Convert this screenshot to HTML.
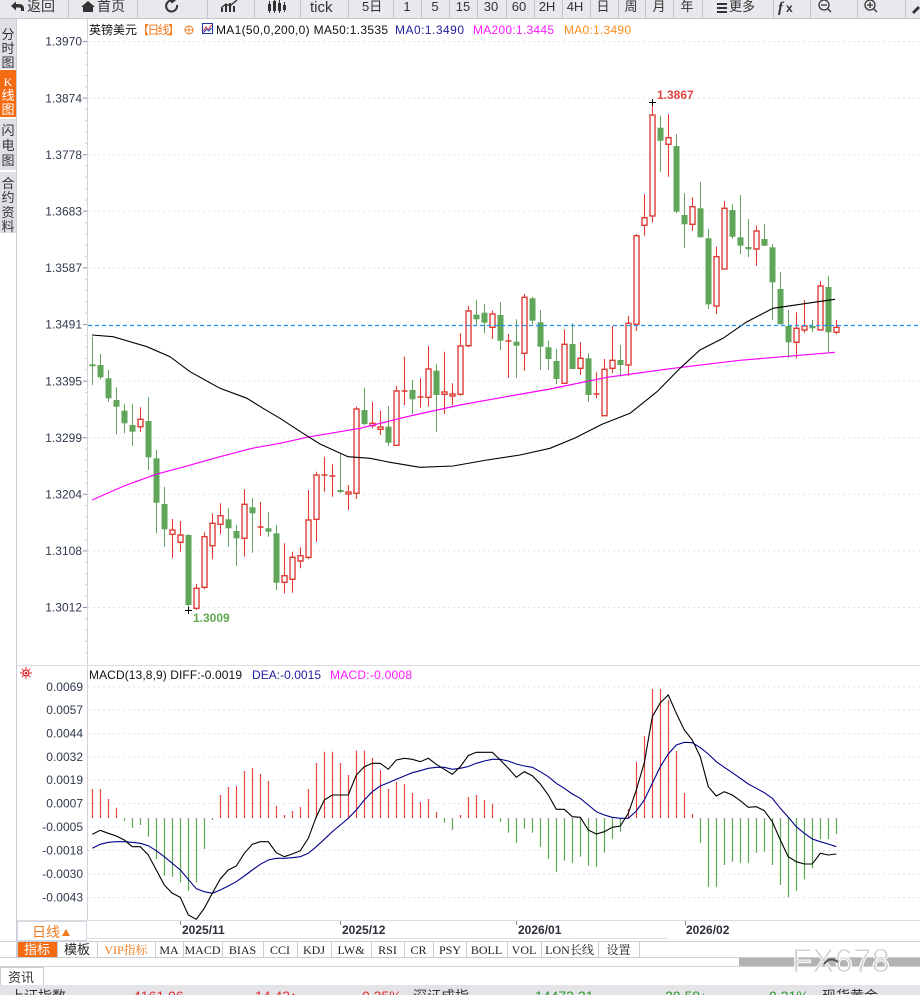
<!DOCTYPE html>
<html><head><meta charset="utf-8"><style>
html,body{margin:0;padding:0;background:#fff;width:920px;height:995px;overflow:hidden}
svg{position:absolute;left:0;top:0;font-family:"Liberation Sans","Noto Sans CJK SC",sans-serif}
</style></head><body>
<svg width="920" height="995" viewBox="0 0 920 995" xmlns="http://www.w3.org/2000/svg">
<!-- toolbar -->
<rect x="0" y="0" width="920" height="18" fill="#e8e8ed"/>
<line x1="0" y1="18.5" x2="920" y2="18.5" stroke="#c6c6ce"/>
<g stroke="#c4c4cc">
<path d="M68.5 0V18M137.5 0V18M207.5 0V18M254.5 0V18M300.5 0V18M348.5 0V18M393.5 0V18M421.5 0V18M449.5 0V18M477.5 0V18M506.5 0V18M534.5 0V18M562.5 0V18M590.5 0V18M618.5 0V18M645.5 0V18M673.5 0V18M702.5 0V18M773.5 0V18M810.5 0V18M857.5 0V18M905.5 0V18"/>
</g>
<g fill="#333" font-size="14">
<path d="M11 6 L16 1.5 V4 H19 Q24 4 24 9 V11 H21 V9 Q21 7.5 19 7.5 H16 V10.5 Z" fill="#333"/>
<text x="27" y="11">返回</text>
<path d="M81 7 L88 1 L95 7 H93 V12 H83 V7 Z" fill="#333"/>
<text x="97" y="11">首页</text>
<path d="M177 5 A5.5 5.5 0 1 1 172 0.5" fill="none" stroke="#333" stroke-width="2"/>
<path d="M171 -2 L176 0.8 L171 3.5Z"/>
<path d="M221 12V8h2v4zM225 12V5h2v7zM229 12V3h2v9zM233 12V6h2v6z"/>
<path d="M221 8 L226 4 L230 6 L237 0" fill="none" stroke="#333" stroke-width="1.3"/>
<path d="M268 4h3v7h-3zM273 1h3v10h-3zM278 3h3v8h-3zM283 5h3v5h-3z"/>
<path d="M269.5 1V13M274.5 -1V13M279.5 0V13M284.5 2V12" stroke="#333" stroke-width="1"/>
<text x="310" y="12" font-size="15">tick</text>
<text x="362" y="11" font-size="13">5日</text>
<text x="407" y="11" font-size="13" text-anchor="middle">1</text>
<text x="435" y="11" font-size="13" text-anchor="middle">5</text>
<text x="463" y="11" font-size="13" text-anchor="middle">15</text>
<text x="491" y="11" font-size="13" text-anchor="middle">30</text>
<text x="519" y="11" font-size="13" text-anchor="middle">60</text>
<text x="547" y="11" font-size="13" text-anchor="middle">2H</text>
<text x="575" y="11" font-size="13" text-anchor="middle">4H</text>
<text x="603" y="11" font-size="13" text-anchor="middle">日</text>
<text x="631" y="11" font-size="13" text-anchor="middle">周</text>
<text x="659" y="11" font-size="13" text-anchor="middle">月</text>
<text x="687" y="11" font-size="13" text-anchor="middle">年</text>
<path d="M717 3h10v2h-10zM717 7h10v2h-10zM717 11h10v2h-10z"/>
<text x="729" y="11" font-size="13">更多</text>
<text x="778" y="12" font-size="15" font-weight="bold" font-style="italic" font-family="Liberation Serif,serif">f</text>
<text x="786" y="12" font-size="12" font-weight="bold">x</text>
<circle cx="824" cy="5" r="5" fill="none" stroke="#333" stroke-width="1.3"/>
<path d="M821 5h6M828 9l3 3" stroke="#333" stroke-width="1.3"/>
<circle cx="870" cy="5" r="5" fill="none" stroke="#333" stroke-width="1.3"/>
<path d="M867 5h6M870 2v6M874 9l3 3" stroke="#333" stroke-width="1.3"/>
<path d="M912 12 L918 6 L920 8 L914 14 Z M911 15h9"/>
</g>

<!-- sidebar -->
<rect x="0" y="19" width="16" height="50" fill="#dfe0e6"/>
<rect x="0" y="70" width="16" height="47" fill="#f46b12"/>
<rect x="0" y="119" width="16" height="51" fill="#dfe0e6"/>
<rect x="0" y="172" width="16" height="61" fill="#dfe0e6"/>
<line x1="16.5" y1="19" x2="16.5" y2="958" stroke="#c9ccd4"/>
<g font-size="13" fill="#333" text-anchor="middle">
<text x="8" y="39">分</text><text x="8" y="53">时</text><text x="8" y="67">图</text>
<text x="8" y="86" fill="#fff" font-family="Liberation Serif,serif" font-size="12">K</text><text x="8" y="100" fill="#fff">线</text><text x="8" y="114" fill="#fff">图</text>
<text x="8" y="135">闪</text><text x="8" y="150">电</text><text x="8" y="165">图</text>
<text x="8" y="188">合</text><text x="8" y="202">约</text><text x="8" y="217">资</text><text x="8" y="231">料</text>
</g>

<!-- axis lines -->
<line x1="87.5" y1="19" x2="87.5" y2="921" stroke="#d3d3d8"/>
<line x1="17" y1="665.5" x2="920" y2="665.5" stroke="#dcdce0"/>

<!-- main grid -->
<g stroke="#e3e3e3" stroke-dasharray="2,3">
<path d="M88 41.5H920M88 98.1H920M88 154.7H920M88 211.3H920M88 267.9H920M88 381.1H920M88 437.7H920M88 494.3H920M88 550.9H920M88 607.5H920"/>
</g>
<g stroke="#8a93a3">
<path d="M83 41.5h4M83 98.1h4M83 154.7h4M83 211.3h4M83 267.9h4M83 324.5h4M83 381.1h4M83 437.7h4M83 494.3h4M83 550.9h4M83 607.5h4"/>
</g>
<g stroke="#c8ccd4">
<path d="M85 52.8h2M85 64.1h2M85 75.5h2M85 86.8h2M85 109.4h2M85 120.7h2M85 132h2M85 143.4h2M85 166h2M85 177.3h2M85 188.6h2M85 200h2M85 222.6h2M85 233.9h2M85 245.2h2M85 256.6h2M85 279.2h2M85 290.5h2M85 301.8h2M85 313.2h2M85 335.8h2M85 347.1h2M85 358.4h2M85 369.8h2M85 392.4h2M85 403.7h2M85 415h2M85 426.4h2M85 449h2M85 460.3h2M85 471.6h2M85 483h2M85 505.6h2M85 516.9h2M85 528.2h2M85 539.6h2M85 562.2h2M85 573.5h2M85 584.8h2M85 596.2h2M85 618.8h2M85 630.1h2M85 641.4h2M85 652.8h2"/>
</g>
<g font-size="12" fill="#2f3a4c" text-anchor="end">
<text x="82" y="45.7">1.3970</text>
<text x="82" y="102.3">1.3874</text>
<text x="82" y="158.9">1.3778</text>
<text x="82" y="215.5">1.3683</text>
<text x="82" y="272.1">1.3587</text>
<text x="82" y="328.7">1.3491</text>
<text x="82" y="385.3">1.3395</text>
<text x="82" y="441.9">1.3299</text>
<text x="82" y="498.5">1.3204</text>
<text x="82" y="555.1">1.3108</text>
<text x="82" y="611.7">1.3012</text>
</g>

<!-- legend -->
<g font-size="12">
<text x="89" y="34" fill="#111" textLength="48">英镑美元</text>
<text x="137" y="34" fill="#f07a1e" textLength="43">【日线】</text>
<circle cx="189" cy="30" r="4" fill="none" stroke="#f07a1e" stroke-width="1"/>
<path d="M185 30h8M189 26v8" stroke="#f07a1e" stroke-width="0.8"/>
<rect x="202.5" y="23.5" width="10" height="10" fill="#fff" stroke="#223399"/>
<path d="M203.5 31 L206 27 L208 30 L211.5 25" fill="none" stroke="#e02020"/>
<path d="M203.5 32.5 L207 29 L209 31 L211.5 28" fill="none" stroke="#2040c0"/>
<text x="216" y="34" fill="#111" textLength="172">MA1(50,0,200,0) MA50:1.3535</text>
<text x="395" y="34" fill="#1c1ca0" textLength="69">MA0:1.3490</text>
<text x="473" y="34" fill="#ff1aff" textLength="81">MA200:1.3445</text>
<text x="564" y="34" fill="#ff8c1a" textLength="67">MA0:1.3490</text>
</g>

<!-- candles: wicks -->
<path fill="none" stroke="#5fa55a" stroke-width="1" d="M92.5 336.7V385M100.5 354V379.3M108.5 370V401.7M116.5 387.3V434.3M124.5 404V433.3M132.5 404V445.7M148.5 397.3V470M156.5 450V533.3M164.5 486.7V546.7M188.5 534.3V611.7M228.5 508.3V546.7M236.5 525V565.7M252.5 498.3V552.7M268.5 512.3V536.7M276.5 525V590M340.5 453.3V493.3M364.5 387.7V425M388.5 406V446M412.5 380V414M436.5 364V431.7M476.5 300V325M484.5 304V333.3M500.5 302.3V350M516.5 319.3V377.7M532.5 297V324.3M540.5 310V370M548.5 340.7V370M556.5 349V384M572.5 323.3V369M588.5 353.3V401.7M620.5 345V376.7M660.5 115.7V171.7M676.5 134.3V213.3M684.5 193.3V247.7M700.5 181.7V237.3M708.5 229V309M732.5 204.3V239M740.5 195V254.3M748.5 219V257.3M764.5 224V246M772.5 244V320M780.5 272.3V324.3M788.5 310V358.3M812.5 320V332.3M828.5 276V352.7"/>
<path fill="none" stroke="#de3b33" stroke-width="1.1" d="M140.5 407.3V431.7M172.5 519V558.3M180.5 521V551.7M196.5 584V610M204.5 532.3V589.3M212.5 513.3V559.3M220.5 503.3V534.3M244.5 489.3V556.7M260.5 501.7V536M284.5 543.3V593.3M292.5 551.7V592.7M300.5 547.3V568.3M308.5 490V559.3M316.5 471.7V541.7M324.5 456.7V491.7M332.5 464.3V496.7M348.5 485V510M356.5 406.7V499M372.5 401.7V428.3M380.5 410.7V435M396.5 386V445.7M404.5 356.7V405M420.5 378.3V407.7M428.5 346V406.7M444.5 351.7V414M452.5 383.3V405M460.5 333.3V395.7M468.5 306V347.3M492.5 310.7V339M508.5 334V377.7M524.5 294V370.7M564.5 329.3V384M580.5 342.3V375M596.5 372.3V398.3M604.5 359V416M612.5 325.7V373.3M628.5 316V376M636.5 234.3V331M644.5 194.3V235.7M652.5 101V222.3M668.5 114.3V176.7M692.5 197.3V230.7M716.5 246.7V314.3M724.5 201V269.3M756.5 225.7V265.7M796.5 312.3V358.3M804.5 300V332.7M820.5 281V330M836.5 320V334.3"/>
<!-- green bodies -->
<g fill="#5fa55a">
<rect x="89.5" y="364.3" width="6" height="2"/>
<rect x="97.5" y="365" width="6" height="12.3"/>
<rect x="105.5" y="378.3" width="6" height="20"/>
<rect x="113.5" y="400" width="6" height="6.7"/>
<rect x="121.5" y="410.7" width="6" height="12.6"/>
<rect x="129.5" y="425" width="6" height="6.7"/>
<rect x="145.5" y="421" width="6" height="36.3"/>
<rect x="153.5" y="458.3" width="6" height="44.4"/>
<rect x="161.5" y="504" width="6" height="25.3"/>
<rect x="185.5" y="535" width="6" height="70"/>
<rect x="225.5" y="519.3" width="6" height="9"/>
<rect x="233.5" y="531" width="6" height="7.3"/>
<rect x="249.5" y="507.3" width="6" height="6"/>
<rect x="265.5" y="528.3" width="6" height="3.4"/>
<rect x="273.5" y="533.3" width="6" height="49.4"/>
<rect x="337.5" y="490" width="6" height="2"/>
<rect x="361.5" y="410" width="6" height="14"/>
<rect x="385.5" y="426.7" width="6" height="16"/>
<rect x="409.5" y="390" width="6" height="9.3"/>
<rect x="433.5" y="370.7" width="6" height="24.3"/>
<rect x="473.5" y="314.7" width="6" height="4.6"/>
<rect x="481.5" y="312.7" width="6" height="10"/>
<rect x="497.5" y="315" width="6" height="25.7"/>
<rect x="513.5" y="341.7" width="6" height="4"/>
<rect x="529.5" y="298.3" width="6" height="22.4"/>
<rect x="537.5" y="322.3" width="6" height="24.4"/>
<rect x="545.5" y="347.3" width="6" height="11.7"/>
<rect x="553.5" y="361" width="6" height="18"/>
<rect x="569.5" y="344" width="6" height="25"/>
<rect x="585.5" y="358.3" width="6" height="36.7"/>
<rect x="617.5" y="360" width="6" height="5"/>
<rect x="657.5" y="127.7" width="6" height="13"/>
<rect x="673.5" y="146" width="6" height="65.7"/>
<rect x="681.5" y="215" width="6" height="9.3"/>
<rect x="697.5" y="208.3" width="6" height="29"/>
<rect x="705.5" y="238.3" width="6" height="66"/>
<rect x="729.5" y="210" width="6" height="26.7"/>
<rect x="737.5" y="237.3" width="6" height="8.4"/>
<rect x="745.5" y="247" width="6" height="2.3"/>
<rect x="761.5" y="239" width="6" height="6.7"/>
<rect x="769.5" y="247.3" width="6" height="35"/>
<rect x="777.5" y="289" width="6" height="35.3"/>
<rect x="785.5" y="326" width="6" height="16.3"/>
<rect x="809.5" y="326" width="6" height="2.3"/>
<rect x="825.5" y="287" width="6" height="45.3"/>
</g>
<!-- red bodies -->
<g fill="#fff" stroke="#de3b33" stroke-width="1.4">
<rect x="138" y="419.3" width="5" height="7.4"/>
<rect x="170" y="530" width="5" height="4.3"/>
<rect x="178" y="535" width="5" height="7.3"/>
<rect x="194" y="588.3" width="5" height="20"/>
<rect x="202" y="536.7" width="5" height="50.6"/>
<rect x="210" y="523.3" width="5" height="22.4"/>
<rect x="218" y="515.7" width="5" height="8.6"/>
<rect x="242" y="504.3" width="5" height="34"/>
<rect x="282" y="575.7" width="5" height="6.6"/>
<rect x="290" y="557.3" width="5" height="22"/>
<rect x="298" y="555.7" width="5" height="5.3"/>
<rect x="306" y="520" width="5" height="37.3"/>
<rect x="314" y="475" width="5" height="44.3"/>
<rect x="346" y="492" width="5" height="2"/>
<rect x="354" y="409" width="5" height="84.3"/>
<rect x="370" y="423.3" width="5" height="2.4"/>
<rect x="378" y="427" width="5" height="2.3"/>
<rect x="394" y="391" width="5" height="54.3"/>
<rect x="426" y="369" width="5" height="28.3"/>
<rect x="442" y="392" width="5" height="2.3"/>
<rect x="450" y="394" width="5" height="2"/>
<rect x="458" y="346" width="5" height="48.3"/>
<rect x="466" y="311" width="5" height="34.7"/>
<rect x="490" y="314" width="5" height="13.3"/>
<rect x="522" y="297.3" width="5" height="56"/>
<rect x="562" y="344.3" width="5" height="39"/>
<rect x="578" y="358.3" width="5" height="10"/>
<rect x="602" y="369.3" width="5" height="46.4"/>
<rect x="610" y="360.3" width="5" height="8"/>
<rect x="626" y="323.3" width="5" height="41.7"/>
<rect x="634" y="235.7" width="5" height="88.6"/>
<rect x="642" y="217.7" width="5" height="7.6"/>
<rect x="650" y="115" width="5" height="101"/>
<rect x="666" y="137.7" width="5" height="6.6"/>
<rect x="690" y="206.7" width="5" height="17.6"/>
<rect x="714" y="256.7" width="5" height="49.3"/>
<rect x="722" y="208.3" width="5" height="60.7"/>
<rect x="754" y="231" width="5" height="18"/>
<rect x="794" y="328.3" width="5" height="14"/>
<rect x="802" y="326" width="5" height="4"/>
<rect x="818" y="286" width="5" height="44"/>
<rect x="834" y="327.3" width="5" height="5"/>
</g>
<path fill="none" stroke="#de3b33" stroke-width="1.4" d="M257.5 527H263.5M321.5 475H327.5M329.5 476H335.5M401.5 391H407.5M417.5 397H423.5M505.5 341H511.5M593.5 394H599.5"/>

<!-- MA lines -->
<polyline fill="none" stroke="#ff00ff" stroke-width="1.2" points="92,500 124,486 156,474.3 188,465.7 220,456.7 252,448.3 280,443.3 310,436.7 360,428.3 410,416 460,405 510,396 550,389 607,377.3 673,368.3 740,360.3 835,352.3"/>
<polyline fill="none" stroke="#000" stroke-width="1.1" points="92,335 113,336.7 147,346.7 170,356.7 190,371.7 220,388.3 247,398.3 263,408.3 280,418.3 303,433.3 320,444 348,456.7 370,458.3 390,462.3 420,467.3 453,466 487,460 520,455 550,448.3 575,438 602,424.3 630,413.3 657,391.7 680,368.3 700,350 723,338.3 747,321.7 773,308.3 807,303.3 835,299.3"/>
<line x1="88" y1="325.5" x2="920" y2="325.5" stroke="#1e90ff" stroke-width="1.2" stroke-dasharray="4,3"/>

<!-- hi/lo labels -->
<path d="M649 102.5h7M652.5 99v7M185 610.5h7M188.5 607v7" stroke="#000" stroke-width="1"/>
<text x="657" y="99" font-size="12" font-weight="bold" fill="#e04545">1.3867</text>
<text x="193" y="622" font-size="12" font-weight="bold" fill="#62a852">1.3009</text>

<!-- MACD panel -->
<g stroke="#e3e3e3" stroke-dasharray="2,3">
<path d="M88 687H920M88 710H920M88 733.5H920M88 757H920M88 780H920M88 803.5H920M88 827H920M88 850.5H920M88 874H920M88 897.5H920"/>
</g>
<g font-size="12" fill="#2f3a4c" text-anchor="end">
<text x="83" y="691">0.0069</text>
<text x="83" y="714">0.0057</text>
<text x="83" y="737.5">0.0044</text>
<text x="83" y="761">0.0032</text>
<text x="83" y="784">0.0019</text>
<text x="83" y="807.5">0.0007</text>
<text x="83" y="831">-0.0005</text>
<text x="83" y="854.5">-0.0018</text>
<text x="83" y="878">-0.0030</text>
<text x="83" y="901.5">-0.0043</text>
</g>
<g>
<circle cx="26" cy="673" r="3" fill="#fff" stroke="#e02020" stroke-width="1.3"/>
<circle cx="26" cy="673" r="1.3" fill="#e02020"/>
<path d="M26 667v2M26 677v2M20 673h2M30 673h2M21.8 668.8l1.4 1.4M28.8 675.8l1.4 1.4M21.8 677.2l1.4-1.4M28.8 670.2l1.4-1.4" stroke="#e02020" stroke-width="1"/>
</g>
<g font-size="12">
<text x="89" y="679" fill="#111" textLength="153">MACD(13,8,9) DIFF:-0.0019</text>
<text x="252" y="679" fill="#1c1ca0" textLength="69">DEA:-0.0015</text>
<text x="330" y="679" fill="#ff1aff" textLength="82">MACD:-0.0008</text>
</g>
<path fill="none" stroke="#e8463c" stroke-width="1.2" d="M92.5 818V789M100.5 818V789M108.5 818V799M116.5 818V807.7M220.5 818V795M228.5 818V787M236.5 818V786M244.5 818V771M252.5 818V768M260.5 818V774M268.5 818V781M276.5 818V806M284.5 818V815M292.5 818V811M300.5 818V807M308.5 818V789M316.5 818V763M324.5 818V751.7M332.5 818V751.7M340.5 818V763M348.5 818V775M356.5 818V750.7M364.5 818V750.7M372.5 818V758M380.5 818V770M388.5 818V789M396.5 818V782M404.5 818V784M412.5 818V793M420.5 818V802M428.5 818V799M436.5 818V812M460.5 818V815M468.5 818V797M476.5 818V795M484.5 818V800M492.5 818V804M628.5 818V809M636.5 818V761.7M644.5 818V736M652.5 818V689M660.5 818V689M668.5 818V700M676.5 818V751M684.5 818V793M692.5 818V814"/>
<path fill="none" stroke="#5aab4f" stroke-width="1.2" d="M124.5 818V820.7M132.5 818V827.7M140.5 818V825M148.5 818V836.7M156.5 818V859M164.5 818V875.7M172.5 818V876.7M180.5 818V882.3M188.5 818V890.7M196.5 818V882.3M204.5 818V849M212.5 818V820M444.5 818V822.7M452.5 818V830M500.5 818V821.7M508.5 818V832.7M516.5 818V842.7M524.5 818V828.7M532.5 818V832.7M540.5 818V846.7M548.5 818V858.7M556.5 818V871.7M564.5 818V860.7M572.5 818V862.7M580.5 818V856.7M588.5 818V865.7M596.5 818V866.7M604.5 818V852.7M612.5 818V838.7M620.5 818V831.7M700.5 818V842.7M708.5 818V886.7M716.5 818V886.7M724.5 818V865M732.5 818V861.7M740.5 818V862.7M748.5 818V862.7M756.5 818V852.7M764.5 818V851.7M772.5 818V865M780.5 818V885M788.5 818V897.3M796.5 818V890.7M804.5 818V879.3M812.5 818V868.3M820.5 818V839M828.5 818V839M836.5 818V834"/>
<polyline fill="none" stroke="#00008b" stroke-width="1.1" points="92.3,848.3 100.3,844.3 108.3,842.3 116.3,841.7 124.3,841.7 132.3,842.3 140.3,843.3 148.3,845.7 156.3,850.7 164.3,856.7 172.3,863.3 180.3,870 188.3,879.3 196.3,888.7 204.3,891.7 212.3,893.3 220.3,890 228.3,886 236.3,881.7 244.3,876 252.3,870 260.3,864.3 268.3,860 276.3,858.3 284.3,858.3 292.3,857.7 300.3,856.7 308.3,853.3 316.3,846.7 324.3,839.3 332.3,831.7 340.3,825 348.3,818.3 356.3,810 364.3,800 372.3,791.7 380.3,786 388.3,782.7 396.3,779.3 404.3,776 412.3,772.7 420.3,770.7 428.3,768.3 436.3,767.3 444.3,767.3 452.3,769.3 460.3,768.3 468.3,766.5 476.3,763.3 484.3,761 492.3,759.3 500.3,759.3 508.3,761 516.3,764 524.3,766 532.3,767.3 540.3,771.7 548.3,776.7 556.3,783.3 564.3,788.3 572.3,794 580.3,798.3 588.3,805 596.3,811.7 604.3,815 612.3,817.3 620.3,818.3 628.3,818.3 636.3,811 644.3,800 652.3,783.3 660.3,766.7 668.3,754 676.3,745 684.3,742.3 692.3,742.7 700.3,747.7 708.3,754 716.3,761.7 724.3,767.3 732.3,772.7 740.3,778.3 748.3,784 756.3,788.3 764.3,792.7 772.3,798.3 780.3,808.3 788.3,817.3 796.3,826.7 804.3,833.3 812.3,839 820.3,841.7 828.3,844 836.3,846.7"/>
<polyline fill="none" stroke="#000" stroke-width="1.1" points="92.3,834.3 100.3,830.3 108.3,833.3 116.3,836 124.3,840 132.3,846.7 140.3,846.7 148.3,855 156.3,870 164.3,885 172.3,893.3 180.3,897.3 188.3,915 196.3,919.3 204.3,908.3 212.3,893.3 220.3,879 228.3,870 236.3,866 244.3,853.3 252.3,844.3 260.3,841.7 268.3,841.7 276.3,852.7 284.3,856.7 292.3,854 300.3,850.7 308.3,838.3 316.3,816.7 324.3,800 332.3,795 340.3,795 348.3,795 356.3,775 364.3,766.7 372.3,763.3 380.3,763.3 388.3,769.3 396.3,760 404.3,758.3 412.3,759.3 420.3,761.7 428.3,758.3 436.3,764.3 444.3,769.3 452.3,774.3 460.3,766.7 468.3,755.5 476.3,752.3 484.3,752.3 492.3,752.3 500.3,760 508.3,768.3 516.3,777.3 524.3,771.7 532.3,775.7 540.3,784 548.3,795 556.3,809.3 564.3,809.3 572.3,816.7 580.3,817.3 588.3,830 596.3,834 604.3,831.7 612.3,827.3 620.3,826 628.3,813.3 636.3,790 644.3,762.7 652.3,716.7 660.3,702.7 668.3,695 676.3,713.3 684.3,730 692.3,740 700.3,756.7 708.3,786.7 716.3,796 724.3,791.7 732.3,795 740.3,800.7 748.3,807.3 756.3,806.7 764.3,810.7 772.3,821.7 780.3,840 788.3,856.7 796.3,861.7 804.3,864 812.3,864 820.3,853.3 828.3,855 836.3,854"/>

<!-- date axis -->
<line x1="17" y1="920.5" x2="920" y2="920.5" stroke="#dcdce0"/>
<line x1="87" y1="938.5" x2="668" y2="938.5" stroke="#e2e2e6"/>
<path d="M180.5 921V925M340.5 921V925M516.5 921V925M685.5 921V925" stroke="#888"/>
<g font-size="12" font-weight="bold" fill="#2a2f3a">
<text x="182" y="934">2025/11</text>
<text x="342" y="934">2025/12</text>
<text x="518" y="934">2026/01</text>
<text x="686" y="934">2026/02</text>
</g>
<rect x="17.5" y="921.5" width="69" height="19" fill="#fff" stroke="#d4d8e0"/>
<text x="32" y="937" font-size="14" fill="#f07a1e">日线</text>
<path d="M62 936 L66 929 L70 936Z" fill="#f07a1e"/>

<!-- tab bar -->
<line x1="0" y1="941.5" x2="920" y2="941.5" stroke="#c8cdd6"/>
<line x1="0" y1="957.5" x2="920" y2="957.5" stroke="#c8cdd6"/>
<rect x="17" y="942" width="40" height="15" fill="#f46b12"/>
<path d="M17.5 942V957M57.5 942V957M97.5 942V957M155.5 942V957M183.5 942V957M222.5 942V957M263.5 942V957M297.5 942V957M331.5 942V957M371.5 942V957M404.5 942V957M433.5 942V957M466.5 942V957M507.5 942V957M541.5 942V957M598.5 942V957M639.5 942V957" stroke="#c8cdd6"/>
<g font-size="12" text-anchor="middle" fill="#222">
<text x="37" y="954" fill="#fff" font-size="13">指标</text>
<text x="77" y="954" font-size="13">模板</text>
<text x="126" y="954" fill="#f07a1e" font-family="Liberation Serif,'Noto Serif CJK SC',serif">VIP指标</text>
<g font-family="Liberation Serif,'Noto Serif CJK SC',serif">
<text x="169" y="954">MA</text>
<text x="202.5" y="954">MACD</text>
<text x="242.5" y="954">BIAS</text>
<text x="280" y="954">CCI</text>
<text x="314" y="954">KDJ</text>
<text x="351" y="954">LW&amp;</text>
<text x="387.5" y="954">RSI</text>
<text x="418.5" y="954">CR</text>
<text x="450" y="954">PSY</text>
<text x="486.5" y="954">BOLL</text>
<text x="524" y="954">VOL</text>
<text x="569.5" y="954">LON长线</text>
<text x="618.5" y="954">设置</text>
</g>
</g>

<!-- lower area -->
<line x1="0" y1="966.5" x2="920" y2="966.5" stroke="#d4d4d8"/>
<rect x="739" y="958" width="181" height="8" fill="#b3b3b3"/>
<text x="792" y="972" font-size="33" fill="#cfd0d5" stroke="#fff" stroke-width="1" textLength="98" font-family="Liberation Sans,sans-serif">FX678</text>
<path d="M824 964 Q830 956 838 962" fill="none" stroke="#555" stroke-width="2"/>
<rect x="0.5" y="967.5" width="43" height="18" fill="#fff" stroke="#ccc"/>
<text x="8" y="982" font-size="13" fill="#333">资讯</text>
<rect x="0" y="985" width="920" height="10" fill="#e4e4e8"/>
<g font-size="14">
<text x="10" y="1001" fill="#333">上证指数</text>
<text x="133" y="1001" fill="#e03030">4161.06</text>
<text x="255" y="1001" fill="#e03030">14.43↑</text>
<text x="362" y="1001" fill="#e03030">0.35%</text>
<text x="413" y="1001" fill="#333">深证成指</text>
<text x="535" y="1001" fill="#2a9a2a">14472.21</text>
<text x="665" y="1001" fill="#2a9a2a">20.58↓</text>
<text x="769" y="1001" fill="#2a9a2a">0.21%</text>
<text x="822" y="1001" fill="#333">现货黄金</text>
</g>
</svg>
</body></html>
